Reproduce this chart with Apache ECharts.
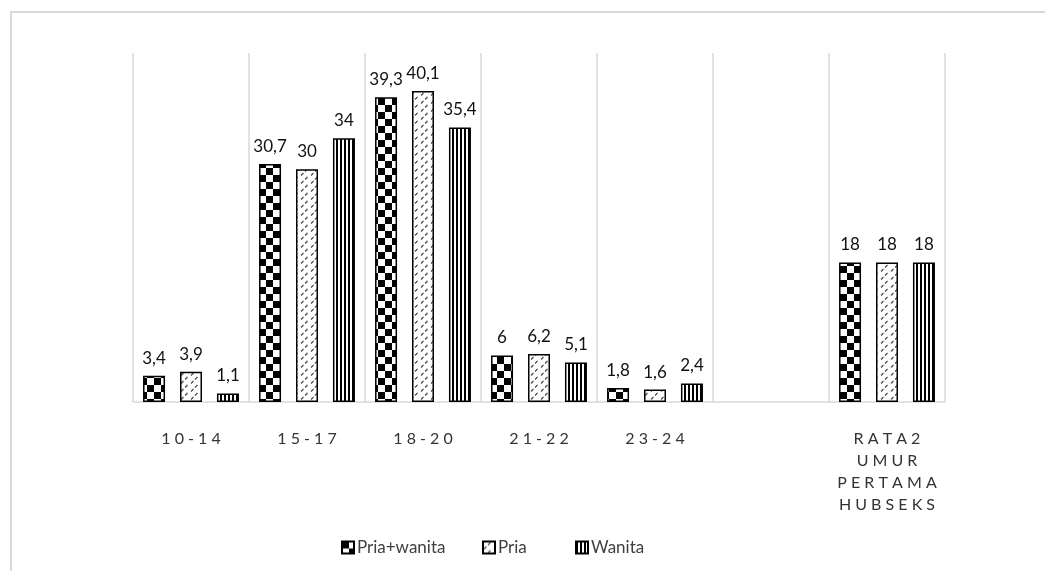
<!DOCTYPE html>
<html>
<head>
<meta charset="utf-8">
<script src="https://cdn.jsdelivr.net/npm/echarts@6/dist/echarts.min.js"></script>
<style>
  html, body { margin: 0; padding: 0; background: #fff; }
  #chart { width: 1045px; height: 571px; }
</style>
</head>
<body>
<div id="chart"></div>
<script>
// Age groups at first intercourse (last group is the average age)
const categories = ['10-14', '15-17', '18-20', '21-22', '23-24', '', 'RATA2\nUMUR\nPERTAMA\nHUBSEKS'];
const seriesNames = ['Pria+wanita', 'Pria', 'Wanita'];
const priaWanita = [3.4, 30.7, 39.3, 6, 1.8, '-', 18];
const pria = [3.9, 30, 40.1, 6.2, 1.6, '-', 18];
const wanita = [1.1, 34, 35.4, 5.1, 2.4, '-', 18];

// Small tiles used as repeating fill patterns
function tile(w, h, draw) {
  const c = document.createElement('canvas');
  c.width = w; c.height = h;
  const ctx = c.getContext('2d');
  ctx.fillStyle = '#fff';
  ctx.fillRect(0, 0, w, h);
  draw(ctx);
  return c;
}
const checker = tile(14, 14, ctx => {
  ctx.fillStyle = '#000';
  ctx.fillRect(0, 0, 7, 7);
  ctx.fillRect(7, 7, 7, 7);
});
const diagonal = tile(10, 8, ctx => {
  ctx.strokeStyle = '#4a4a4a';
  ctx.lineWidth = 1.2;
  ctx.beginPath();
  ctx.moveTo(1, 7.5); ctx.lineTo(3.5, 5);
  ctx.moveTo(5, 3.5); ctx.lineTo(7.5, 1);
  ctx.stroke();
});
const stripes = tile(4, 4, ctx => {
  ctx.fillStyle = '#000';
  ctx.fillRect(0, 0, 2, 4);
});
const fills = [checker, diagonal, stripes];

const spaced = s => s.split('\n').map(line => line.split('').join(' ')).join('\n');
const decimalComma = p => String(p.value).replace('.', ',');

const FONT = 'Lato, "Noto Sans", sans-serif';

function barSeries(name, data, idx) {
  return {
    name: name,
    type: 'bar',
    data: data,
    barWidth: 22,
    barGap: '68%',
    itemStyle: {
      color: { image: fills[idx], repeat: 'repeat' },
      borderColor: '#000',
      borderWidth: 1.5
    },
    label: {
      show: true,
      position: 'top',
      distance: 9,
      formatter: decimalComma,
      fontFamily: FONT,
      fontSize: 17,
      color: '#111'
    }
  };
}

function legendAt(name, left) {
  return {
    data: [{ name: name, icon: 'rect' }],
    left: left,
    top: 534,
    itemWidth: 12,
    itemHeight: 12,
    itemGap: 0,
    textStyle: { fontFamily: FONT, fontSize: 17, color: '#404040', padding: [0, 0, 0, -2] },
    selectedMode: false
  };
}

const chart = echarts.init(document.getElementById('chart'), null, { renderer: 'canvas' });
chart.setOption({
  animation: false,
  backgroundColor: '#fff',
  graphic: [{
    type: 'rect',
    shape: { x: 11, y: 12, width: 1045, height: 575 },
    style: { fill: null, stroke: '#d9d9d9', lineWidth: 2 },
    silent: true
  }],
  legend: [
    legendAt(seriesNames[0], 336),
    legendAt(seriesNames[1], 477),
    legendAt(seriesNames[2], 570)
  ],
  grid: { left: 133, right: 100, top: 53, bottom: 169, containLabel: false },
  xAxis: {
    type: 'category',
    data: categories,
    axisLine: { lineStyle: { color: '#d9d9d9', width: 1.5 } },
    axisTick: { show: false },
    splitLine: { show: true, lineStyle: { color: '#d9d9d9', width: 1.5 } },
    axisLabel: {
      interval: 0,
      margin: 26,
      formatter: spaced,
      fontFamily: FONT,
      fontSize: 16,
      lineHeight: 22,
      color: '#333'
    }
  },
  yAxis: {
    type: 'value',
    min: 0,
    max: 45,
    interval: 5,
    show: false,
    splitLine: { show: false }
  },
  series: [
    barSeries(seriesNames[0], priaWanita, 0),
    barSeries(seriesNames[1], pria, 1),
    barSeries(seriesNames[2], wanita, 2)
  ]
});
</script>
</body>
</html>
